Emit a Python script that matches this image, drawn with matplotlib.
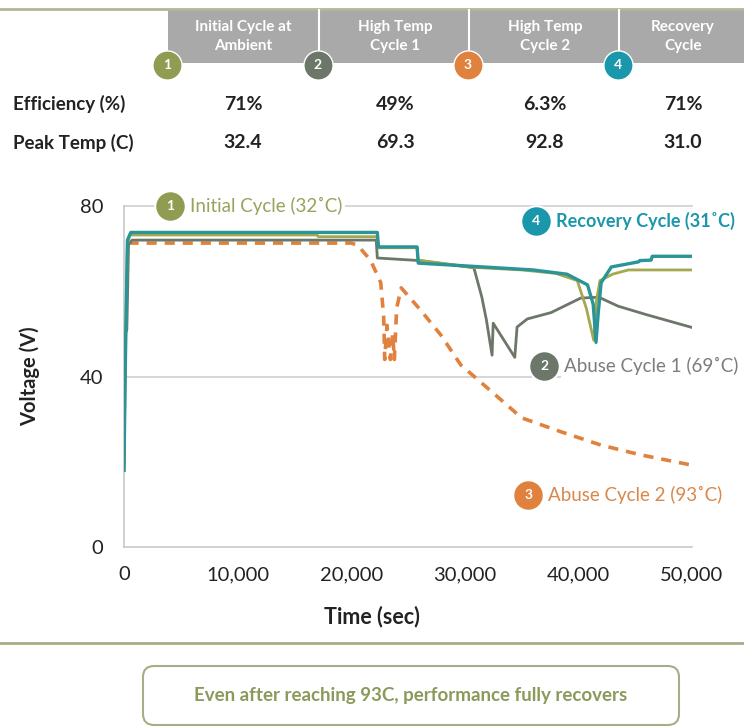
import matplotlib
matplotlib.use("Agg")
import matplotlib.pyplot as plt
from matplotlib.lines import Line2D
from matplotlib.patches import Rectangle, FancyBboxPatch
from matplotlib.ticker import FuncFormatter

plt.rcParams["font.family"] = ["Lato", "DejaVu Sans"]

W, H = 744, 727

# header table
cycle_names = ["Initial Cycle at\nAmbient", "High Temp\nCycle 1", "High Temp\nCycle 2", "Recovery\nCycle"]
efficiency = ["71%", "49%", "6.3%", "71%"]
peak_temp = ["32.4", "69.3", "92.8", "31.0"]

# voltage traces (time in sec, voltage in V)
t_initial = [0, 150, 300, 500, 17000, 17100, 22300, 22400, 25800, 25900, 30800, 35000,
             38000, 39900, 40700, 41350, 41600, 41900, 43000, 44400, 50000]
v_initial = [20, 50, 71, 73.2, 73.2, 72.8, 72.8, 70.2, 70.2, 67.3, 65.6, 65.0,
             64.2, 62.5, 56, 48.5, 58, 62.5, 64, 65, 65]

t_abuse1 = [0, 120, 250, 400, 700, 22200, 22300, 26000, 30800, 31500, 31900, 32400, 32500,
            34400, 34600, 35500, 37600, 40200, 41800, 43500, 46000, 48000, 50000]
v_abuse1 = [18, 50, 51, 71, 72, 72, 67.8, 67.2, 65.5, 58.6, 53.3, 45, 52.5,
            44.5, 51.6, 53.5, 55, 58.4, 58.6, 56.5, 54.5, 53, 51.5]

t_abuse2 = [400, 20000, 20560, 21700, 22600, 22860, 22950, 23150, 23450, 23650, 23800,
            24000, 24400, 26100, 27900, 29650, 31000, 33200, 35000, 38500, 42000, 45500, 50000]
v_abuse2 = [71.3, 71.3, 70.8, 67.3, 62, 54, 44, 52, 44, 50, 44,
            56, 60.8, 55.6, 49.7, 42.7, 39.6, 34.5, 30.3, 27, 23.9, 21.6, 19.2]

t_recovery = [0, 100, 300, 600, 22300, 22400, 25800, 25900, 31000, 36000, 39000, 40800,
              41300, 41550, 41750, 42000, 42900, 45300, 45400, 46400, 46500, 50000]
v_recovery = [18, 40, 72, 73.8, 73.8, 70.4, 70.4, 66.6, 65.8, 65, 64, 61.5,
              57, 48, 55, 62, 65.7, 66.9, 67.2, 67.3, 68.2, 68.2]

OLIVE = "#8f9c52"
OLIVE_LINE = "#a3a851"
GRAY = "#6c7669"
ORANGE = "#e0823e"
TEAL = "#1a97ab"
TEAL_LINE = "#2a9496"
DARK = "#222222"


def fx(x):
    return x / W


def fy(y):
    return 1 - y / H


fig = plt.figure(figsize=(W / 100, H / 100), dpi=100)

# top rule and grey header band
fig.add_artist(Line2D([0, 1], [fy(9), fy(9)], color="#b4b795", lw=2, transform=fig.transFigure))
fig.add_artist(Rectangle((fx(168), fy(63)), fx(744 - 168), (63 - 10) / H,
                         transform=fig.transFigure, fc="#a9a9a9", ec="none"))
for sx in [319, 469, 619]:
    fig.add_artist(Line2D([fx(sx), fx(sx)], [fy(10), fy(52)], color="white", lw=1.5,
                          transform=fig.transFigure))

col_x = [243, 395, 545, 683]
circ_x = [167, 318, 468, 618]
circ_colors = [OLIVE, GRAY, ORANGE, TEAL]
for i in range(4):
    fig.text(fx(col_x[i]), fy(36.5), cycle_names[i], ha="center", va="center", color="white",
             fontsize=11, fontweight="bold", linespacing=1.4)
    fig.add_artist(Line2D([fx(circ_x[i])], [fy(65)], marker="o", ms=21, mfc=circ_colors[i],
                          mec="white", mew=1, transform=fig.transFigure))
    fig.text(fx(circ_x[i]), fy(65), str(i + 1), ha="center", va="center", color="white",
             fontsize=10, fontweight="bold")
    fig.text(fx(col_x[i]), fy(104), efficiency[i], ha="center", va="center",
             fontsize=14, fontweight="bold", color=DARK)
    fig.text(fx(col_x[i]), fy(143), peak_temp[i], ha="center", va="center",
             fontsize=14, fontweight="bold", color=DARK)

fig.text(fx(13), fy(104), "Efficiency (%)", ha="left", va="center", fontsize=13.5,
         fontweight="bold", color=DARK)
fig.text(fx(13), fy(143), "Peak Temp (C)", ha="left", va="center", fontsize=13.5,
         fontweight="bold", color=DARK)

# chart
ax = fig.add_axes([fx(124), fy(547), fx(692 - 124), (547 - 206) / H])
ax.axhline(40, color="#cfcfcf", lw=1.2, zorder=0)
ax.axhline(80, color="#cfcfcf", lw=1.2, zorder=0, clip_on=False)

ax.plot(t_abuse2, v_abuse2, color=ORANGE, lw=2.6, ls=(0, (2.8, 2.2)), zorder=2)
ax.plot(t_abuse1, v_abuse1, color=GRAY, lw=2.0, zorder=3)
ax.plot(t_initial, v_initial, color=OLIVE_LINE, lw=2.0, zorder=4)
ax.plot(t_recovery, v_recovery, color=TEAL_LINE, lw=2.4, zorder=5)

ax.set_xlim(0, 50000)
ax.set_ylim(0, 80)
ax.set_xticks([0, 10000, 20000, 30000, 40000, 50000])
ax.set_yticks([0, 40, 80])
ax.xaxis.set_major_formatter(FuncFormatter(lambda v, p: f"{v:,.0f}"))
ax.tick_params(length=0, labelsize=14.5, labelcolor=DARK)
ax.tick_params(axis="y", pad=15)
ax.tick_params(axis="x", pad=14)
for side in ["top", "right"]:
    ax.spines[side].set_visible(False)
for side in ["left", "bottom"]:
    ax.spines[side].set_color("#c8c8c8")
    ax.spines[side].set_linewidth(1.2)

fig.text(fx(30), fy(376), "Voltage (V)", rotation=90, ha="center", va="center",
         fontsize=14.5, fontweight="bold", color=DARK)
fig.text(fx(372), fy(617), "Time (sec)", ha="center", va="center",
         fontsize=15.5, fontweight="bold", color=DARK)

# series labels inside chart
labels = [
    ("1", "Initial Cycle (32˚C)", 4060, 80, OLIVE, "#98a35d", "normal"),
    ("4", "Recovery Cycle (31˚C)", 36300, 76.5, TEAL, TEAL, "bold"),
    ("2", "Abuse Cycle 1 (69˚C)", 36980, 42.5, GRAY, "#7a7f78", "normal"),
    ("3", "Abuse Cycle 2 (93˚C)", 35570, 12.2, ORANGE, "#d9884a", "normal"),
]
for num, txt, tx, vy, cc, tc, wt in labels:
    ax.plot([tx], [vy], marker="o", ms=22, mfc=cc, mec="white", mew=1.5, clip_on=False, zorder=6)
    ax.text(tx, vy, num, ha="center", va="center", color="white", fontsize=10,
            fontweight="bold", zorder=7)
    ax.text(tx + 1750, vy, txt, ha="left", va="center", color=tc,
            fontsize=13.5 if wt == "normal" else 13, fontweight=wt, zorder=7, clip_on=False,
            bbox=dict(fc="white", ec="none", pad=2))

# bottom rule and callout box
fig.add_artist(Line2D([0, 1], [fy(643), fy(643)], color="#a9ad87", lw=2, transform=fig.transFigure))
fig.add_artist(FancyBboxPatch((fx(143), fy(725)), fx(679 - 143), (725 - 666) / H,
                              boxstyle="round,pad=0,rounding_size=0.015",
                              transform=fig.transFigure, fc="white", ec="#a9ad87", lw=1.5))
fig.text(fx(411), fy(695), "Even after reaching 93C, performance fully recovers",
         ha="center", va="center", color="#8a9a5b", fontsize=13.5, fontweight="bold")

fig.savefig("out.png", dpi=100)
